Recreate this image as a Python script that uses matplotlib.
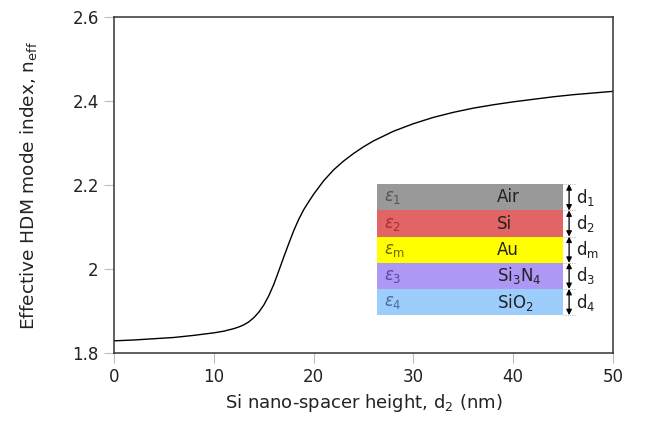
import matplotlib.pyplot as plt
from matplotlib.patches import Rectangle

plt.rcParams['font.family'] = 'DejaVu Sans'
plt.rcParams['mathtext.fontset'] = 'dejavusans'

# spacer height (nm) vs effective index
d2 = [0, 2, 4, 6, 8, 10, 11, 11.5, 12, 12.5, 13, 13.5, 14, 14.5, 15, 15.5,
      16, 16.5, 17, 17.5, 18, 18.5, 19, 19.5, 20, 21, 22, 23, 24, 25, 26,
      28, 30, 32, 34, 36, 38, 40, 42, 44, 46, 48, 50]
neff = [1.829, 1.831, 1.834, 1.837, 1.842, 1.848, 1.852, 1.855, 1.858, 1.862,
        1.867, 1.874, 1.884, 1.897, 1.914, 1.936, 1.963, 1.995, 2.028, 2.060,
        2.091, 2.118, 2.141, 2.160, 2.178, 2.210, 2.236, 2.257, 2.275, 2.291,
        2.305, 2.328, 2.346, 2.361, 2.373, 2.383, 2.391, 2.398, 2.404, 2.410,
        2.415, 2.419, 2.423]

xticks = [0, 10, 20, 30, 40, 50]
yticks = [1.8, 2.0, 2.2, 2.4, 2.6]
ytick_labels = ['1.8', '2', '2.2', '2.4', '2.6']

# layer stack shown in the inset (top to bottom)
eps_labels = [r'$\varepsilon_1$', r'$\varepsilon_2$', r'$\varepsilon_\mathrm{m}$',
              r'$\varepsilon_3$', r'$\varepsilon_4$']
materials = ['Air', 'Si', 'Au', r'Si$_3$N$_4$', r'SiO$_2$']
thick_labels = [r'd$_1$', r'd$_2$', r'd$_\mathrm{m}$', r'd$_3$', r'd$_4$']
fill_colors = ['#999999', '#e36464', '#ffff00', '#ad98f5', '#9dcdfb']
eps_colors = ['#555555', '#a83030', '#6b6b00', '#5a4a9e', '#4a6a9e']


def main():
    fig = plt.figure(figsize=(6.48, 4.25), dpi=100)
    ax = fig.add_axes([0.176, 0.1694, 0.770, 0.7906])

    ax.plot(d2, neff, color='black', linewidth=1.0)

    ax.set_xlim(0, 50)
    ax.set_ylim(1.8, 2.6)
    ax.set_xticks(xticks)
    ax.set_yticks(yticks)
    ax.set_yticklabels(ytick_labels)
    ax.tick_params(direction='out', length=7, width=0.8, color='#bbbbbb',
                   labelsize=12, labelcolor='#222222', pad=4)
    for s in ax.spines.values():
        s.set_linewidth(1.1)
        s.set_color('#333333')

    ax.set_xlabel(r'Si nano-spacer height, d$_2$ (nm)', fontsize=13,
                  color='#222222', labelpad=4)
    ax.set_ylabel(r'Effective HDM mode index, n$_\mathrm{eff}$', fontsize=13.3,
                  color='#222222', labelpad=24)

    # inset: layer stack
    x0, x1 = 26.3, 45.0
    top, row_h = 2.2017, 0.0623
    for i in range(len(materials)):
        y_hi = top - i * row_h
        y_lo = y_hi - row_h
        ax.add_patch(Rectangle((x0, y_lo), x1 - x0, row_h,
                               facecolor=fill_colors[i], edgecolor='none', zorder=3))
        ym = (y_hi + y_lo) / 2
        ax.text(x0 + 0.8, ym, eps_labels[i], color=eps_colors[i], fontsize=12,
                va='center', ha='left', zorder=4)
        ax.text(38.4, ym, materials[i], color='#222222', fontsize=12,
                va='center', ha='left', zorder=4)
        ax.annotate('', xy=(45.6, y_hi), xytext=(45.6, y_lo),
                    arrowprops=dict(arrowstyle='<|-|>', color='black', lw=0.9,
                                    mutation_scale=8, shrinkA=0, shrinkB=0),
                    zorder=4)
        ax.text(46.3, ym, thick_labels[i], color='#222222', fontsize=12,
                va='center', ha='left', zorder=4)
    for i in range(len(materials) + 1):
        yb = top - i * row_h
        ax.plot([45.0, 46.3], [yb, yb], color='#999999', lw=0.6,
                linestyle=':', zorder=4)

    fig.savefig('out.png', dpi=100)


if __name__ == '__main__':
    main()
